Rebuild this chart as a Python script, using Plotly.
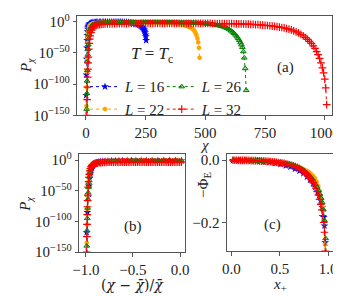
import numpy as np
import plotly.graph_objects as go

# ---------------- data ----------------
L_values = [16, 22, 26, 32]
chi_mean = [128, 242, 338, 512]
legend_labels = ["<i>L</i> = 16", "<i>L</i> = 22", "<i>L</i> = 26", "<i>L</i> = 32"]

chi_L16 = [0, 1, 2, 3, 4, 5, 6, 7, 8, 9, 10, 11, 13, 15, 17, 20, 23, 26, 30, 35,
           40, 45, 50, 56, 62, 68, 75, 82, 90, 98, 106, 114, 122, 130, 138, 146, 154, 162, 170, 178,
           186, 193, 200, 206, 212, 218, 223, 228, 232, 236, 239, 242, 244, 246, 248, 250, 251, 252]
log10P_L16 = [-158, -118, -85, -60, -42, -30, -22, -16, -12, -9.5, -8, -6.8, -5, -4, -3.3, -2.6, -2.2, -1.9, -1.6, -1.4,
              -1.2, -1.1, -1, -0.9, -0.85, -0.8, -0.75, -0.7, -0.65, -0.6, -0.6, -0.6, -0.6, -0.6, -0.65, -0.7, -0.8, -0.9, -1.1, -1.3,
              -1.6, -2, -2.5, -3, -3.7, -4.4, -5.3, -6.5, -7.6, -9, -10.2, -11.8, -13.2, -15, -17.5, -21, -24, -30]

chi_L22 = [0, 1, 2, 3, 4, 5, 6, 7, 8, 9,
           10, 12, 14, 16, 18, 21, 24, 28, 32, 37,
           43, 50, 57, 64, 71, 78, 85, 92, 99, 106,
           113, 120, 127, 134, 141, 148, 155, 162, 169, 176,
           183, 190, 197, 204, 211, 218, 225, 232, 239, 246,
           253, 260, 267, 274, 281, 288, 295, 302, 309, 316,
           323, 330, 337, 344, 351, 358, 365, 372, 379, 386,
           393, 400, 406, 412, 418, 424, 430, 436, 441, 446,
           451, 455, 459, 463, 467, 470, 473, 476]
log10P_L22 = [-210, -170, -135, -105, -80, -60, -45, -34, -26, -20,
              -16, -11, -8, -6.5, -5.5, -4.5, -3.8, -3.2, -2.8, -2.4,
              -2.1, -1.9, -1.75, -1.6, -1.5, -1.45, -1.38, -1.32, -1.27, -1.22,
              -1.18, -1.14, -1.11, -1.08, -1.05, -1.03, -1.01, -1, -1, -1,
              -1, -1, -1, -1, -1, -1, -1, -1, -1, -1,
              -1.02, -1.04, -1.07, -1.1, -1.14, -1.18, -1.23, -1.29, -1.36, -1.44,
              -1.53, -1.63, -1.75, -1.9, -2.05, -2.25, -2.5, -2.8, -3.1, -3.5,
              -4, -4.5, -5.1, -5.7, -6.4, -7.2, -8.1, -9.2, -10.3, -11.6,
              -13.2, -15.5, -18.5, -22, -27, -33, -42, -58]

chi_L26 = [0, 1, 2, 3, 4, 5, 6, 7, 8, 9,
           10, 12, 14, 16, 18, 21, 24, 28, 32, 37,
           43, 50, 57, 64, 72, 80, 88, 96, 104, 112,
           120, 128, 136, 144, 152, 160, 168, 176, 184, 192,
           200, 208, 216, 224, 232, 240, 248, 256, 264, 272,
           280, 288, 296, 304, 312, 320, 328, 336, 344, 352,
           360, 368, 376, 384, 392, 400, 408, 416, 424, 432,
           440, 448, 456, 464, 472, 480, 488, 496, 504, 512,
           520, 528, 536, 544, 552, 560, 568, 576, 584, 592,
           600, 607, 614, 620, 626, 632, 637, 642, 647, 651,
           655, 659, 663, 667, 671]
log10P_L26 = [-250, -205, -170, -140, -115, -95, -78, -64, -53, -44,
              -37, -27, -20, -15, -12, -9, -7, -5.5, -4.6, -3.9,
              -3.3, -2.8, -2.55, -2.35, -2.15, -2, -1.88, -1.78, -1.7, -1.63,
              -1.57, -1.52, -1.47, -1.43, -1.39, -1.35, -1.32, -1.29, -1.26, -1.24,
              -1.22, -1.21, -1.2, -1.2, -1.2, -1.2, -1.2, -1.2, -1.2, -1.2,
              -1.2, -1.2, -1.2, -1.2, -1.2, -1.2, -1.2, -1.2, -1.21, -1.23,
              -1.25, -1.28, -1.31, -1.35, -1.4, -1.46, -1.53, -1.61, -1.7, -1.8,
              -1.91, -2.03, -2.17, -2.32, -2.49, -2.68, -2.89, -3.12, -3.38, -3.67,
              -4.0, -4.4, -4.9, -5.4, -6.0, -6.6, -7.4, -8.4, -9.6, -11.0,
              -12.8, -14.6, -16.6, -18.7, -21.2, -24, -26.8, -29.8, -33.5, -37,
              -41, -48, -58, -75, -110]

chi_L32 = [0, 1, 2, 3, 4, 5, 6, 7, 8, 9,
           10, 12, 14, 16, 18, 21, 24, 28, 32, 37,
           43, 50, 57, 64, 72, 80, 90, 100, 110, 120,
           130, 140, 150, 160, 170, 180, 190, 200, 210, 220,
           230, 240, 250, 260, 270, 280, 290, 300, 310, 320,
           330, 340, 350, 360, 370, 380, 390, 400, 410, 420,
           430, 440, 450, 460, 470, 480, 490, 500, 510, 520,
           530, 540, 550, 560, 570, 580, 590, 600, 610, 620,
           630, 640, 650, 660, 670, 680, 690, 700, 710, 720,
           730, 740, 750, 760, 770, 780, 790, 800, 810, 820,
           830, 840, 850, 860, 870, 880, 890, 900, 910, 920,
           928, 936, 944, 952, 959, 966, 972, 978, 984, 990,
           995, 1000, 1004, 1008]
log10P_L32 = [-300, -255, -215, -180, -150, -125, -105, -89, -76, -66,
              -57, -44, -35, -28, -23, -17.5, -13.5, -10.5, -8.5, -7,
              -6, -5.2, -4.7, -4.35, -4.05, -3.85, -3.65, -3.5, -3.4, -3.32,
              -3.26, -3.21, -3.17, -3.13, -3.1, -3.08, -3.06, -3.04, -3.02, -3.01,
              -3, -3, -3, -3, -3, -3, -3, -3, -3, -3,
              -3, -3, -3, -3, -3, -3, -3, -3, -3, -3,
              -3, -3, -3, -3, -3, -3, -3, -3, -3, -3,
              -3.02, -3.04, -3.07, -3.1, -3.14, -3.18, -3.23, -3.29, -3.36, -3.44,
              -3.53, -3.63, -3.74, -3.86, -4, -4.16, -4.34, -4.54, -4.76, -5,
              -5.27, -5.57, -5.9, -6.27, -6.68, -7.13, -7.63, -8.18, -8.78, -9.44,
              -10.2, -11.1, -12.1, -13.3, -14.7, -16.3, -18.2, -20.3, -22.8, -25.7,
              -28.5, -31.5, -35, -39, -43, -48, -53, -59, -66, -74,
              -82, -92, -106, -133]

chi_all = [chi_L16, chi_L22, chi_L26, chi_L32]
logp_all = [log10P_L16, log10P_L22, log10P_L26, log10P_L32]

# ---------------- styles ----------------
colors = ["#0000ff", "#ffa500", "#008000", "#ff0000"]
markers = [
    dict(symbol="star", size=6, color="#0000ff", line=dict(width=0)),
    dict(symbol="hexagon", size=5, color="#ffa500", line=dict(width=0)),
    dict(symbol="triangle-up", size=5, color="rgba(0,128,0,0.35)", line=dict(width=1, color="#008000")),
    dict(symbol="cross-thin-open", size=5.5, color="#ff0000", line=dict(width=1.2, color="#ff0000")),
]
legend_of = ["legend", "legend", "legend2", "legend2"]
FONT = "Liberation Serif, DejaVu Serif, serif"
FONT_B = "DejaVu Serif, serif"
FRAME = "#555555"
TXT = "#222222"

fig = go.Figure()

for i, L in enumerate(L_values):
    chi = np.array(chi_all[i], dtype=float)
    lp = np.array(logp_all[i], dtype=float)
    assert len(chi) == len(lp)
    P = 10.0 ** lp
    line = dict(color=colors[i], width=1, dash="dot")
    # (a)
    fig.add_trace(go.Scatter(x=chi, y=P, mode="lines+markers", marker=markers[i], line=line,
                             name=legend_labels[i], legend=legend_of[i], xaxis="x", yaxis="y"))
    # (b)
    m = chi_mean[i]
    xb = (chi - m) / m
    sel = xb <= 0.02
    fig.add_trace(go.Scatter(x=xb[sel], y=P[sel], mode="lines+markers", marker=markers[i], line=line,
                             showlegend=False, xaxis="x2", yaxis="y2"))
    # (c)
    xp = (chi - m) / (L * L - m)
    phi = (lp - lp.max()) * np.log(10.0) / (L * L)
    selc = xp >= 0
    fig.add_trace(go.Scatter(x=xp[selc], y=phi[selc], mode="lines+markers", marker=markers[i], line=line,
                             showlegend=False, xaxis="x3", yaxis="y3"))

W, H = 341, 296
def dx(a, b):
    return [a / W, b / W]
def dy(top, bottom):
    return [1 - bottom / H, 1 - top / H]

axis_common = dict(showline=True, mirror=True, linecolor=FRAME, linewidth=1, ticks="outside",
                   ticklen=3.5, tickwidth=1, tickcolor=FRAME, showgrid=False, zeroline=False,
                   tickfont=dict(family=FONT, size=15, color=TXT))

logticks = [1e-150, 1e-100, 1e-50, 1.0]
logtext = ["10<sup>−150</sup>", "10<sup>−100</sup>", "10<sup>−50</sup>", "10<sup>0</sup>"]

fig.update_layout(
    width=W, height=H, margin=dict(l=0, r=0, t=0, b=0),
    paper_bgcolor="white", plot_bgcolor="white",
    xaxis=dict(axis_common, domain=dx(65, 331), range=[-36, 1032],
               tickvals=[0, 250, 500, 750, 1000], anchor="y"),
    yaxis=dict(axis_common, domain=dy(3.5, 107), type="log", range=[-150, 8.4],
               tickvals=logticks, ticktext=logtext, anchor="x"),
    xaxis2=dict(axis_common, domain=dx(67, 177), range=[-1.071, 0.05],
                tickvals=[-1.0, -0.5, 0.0], ticktext=["−1.0", "−0.5", "0.0"], anchor="y2"),
    yaxis2=dict(axis_common, domain=dy(147, 250), type="log", range=[-150, 10.9],
                tickvals=logticks, ticktext=logtext, anchor="x2"),
    xaxis3=dict(axis_common, domain=dx(221, 332), range=[-0.047, 1.053],
                tickvals=[0.0, 0.5, 1.0], ticktext=["0.0", "0.5", "1.0"], anchor="y3"),
    yaxis3=dict(axis_common, domain=dy(147, 249), range=[-0.292, 0.0215],
                tickvals=[-0.2, 0.0], ticktext=["−0.2", "0.0"], anchor="x3"),
    legend=dict(x=73 / W, y=1 - 60 / H, xanchor="left", yanchor="top", bgcolor="rgba(0,0,0,0)",
                font=dict(family=FONT, size=15, color=TXT), tracegroupgap=0, itemwidth=30),
    legend2=dict(x=153 / W, y=1 - 60 / H, xanchor="left", yanchor="top", bgcolor="rgba(0,0,0,0)",
                 font=dict(family=FONT, size=15, color=TXT), tracegroupgap=0, itemwidth=30),
    showlegend=True,
)

def ann(text, x, y, size=15, angle=0, family=FONT):
    fig.add_annotation(text=text, x=x / W, y=1 - y / H, xref="paper", yref="paper",
                       showarrow=False, textangle=angle, xanchor="center", yanchor="middle",
                       font=dict(family=family, size=size, color=TXT))

ann("(a)", 282, 57)
ann("(b)", 123, 223)
ann("(c)", 269, 221)
ann("<i>T</i> = <i>T</i><sub>c</sub>", 143, 44, size=17)
ann("<i>P</i><sub><i>χ</i></sub>", 12, 55, angle=-90)
ann("<i>χ</i>", 198, 138)
ann("<i>P</i><sub><i>χ</i></sub>", 12, 200, angle=-90)
ann("(<i>χ</i> − <i>χ\u0304</i>)/<i>χ\u0304</i>", 123, 285, size=14, family=FONT_B)
ann("−Φ<sub>E</sub>", 197, 180, angle=-90)
ann("<i>x</i><sub>+</sub>", 276, 285)

fig.write_html("out.html")
